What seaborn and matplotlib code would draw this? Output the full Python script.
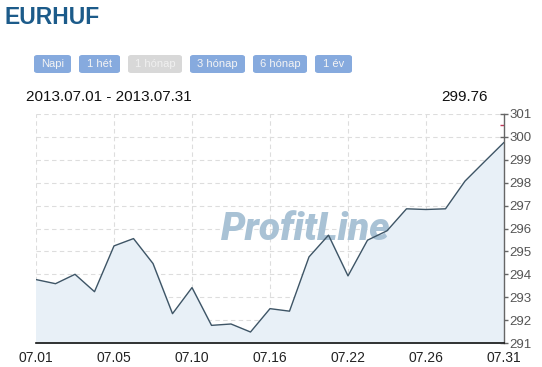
import matplotlib
matplotlib.use("Agg")
import matplotlib.pyplot as plt
from matplotlib.patches import FancyBboxPatch
from matplotlib.ticker import MultipleLocator
import seaborn as sns
import pandas as pd

values = [293.77, 293.59, 294.00, 293.24, 295.24, 295.56, 294.47, 292.28, 293.42,
          291.77, 291.83, 291.48, 292.50, 292.39, 294.76, 295.71, 293.93, 295.49,
          295.90, 296.86, 296.83, 296.86, 298.07, 298.92, 299.76]
tick_pos = [0, 4, 8, 12, 16, 20, 24]
tick_labels = ["07.01", "07.05", "07.10", "07.16", "07.22", "07.26", "07.31"]
buttons = ["Napi", "1 hét", "1 hónap", "3 hónap", "6 hónap", "1 év"]
button_x = [(34, 71), (79, 120), (128, 182), (190, 245), (253, 307), (315, 352)]
active_button = "1 hónap"

df = pd.DataFrame({"idx": range(len(values)), "value": values})

sns.set_style("white")
plt.rcParams["font.family"] = ["Liberation Sans", "DejaVu Sans"]

W, H = 542, 367
fig = plt.figure(figsize=(W / 100, H / 100), dpi=100)

def fx(x):
    return x / W

def fy(y):
    return 1 - y / H

ax = fig.add_axes([fx(36), fy(343), fx(504) - fx(36), fy(114) - fy(343)])

ax.fill_between(df["idx"], df["value"], 291, color="#e8f0f7", zorder=1)
sns.lineplot(data=df, x="idx", y="value", ax=ax, color="#3e5566", linewidth=1.0, zorder=3)

ax.set_xlim(0, 24)
ax.set_ylim(291, 301)
ax.set_xticks(tick_pos)
ax.set_xticklabels(tick_labels)
ax.yaxis.set_major_locator(MultipleLocator(1))
ax.yaxis.set_minor_locator(MultipleLocator(0.5))
ax.yaxis.tick_right()
ax.set_xlabel("")
ax.set_ylabel("")

ax.grid(True, which="major", linestyle=(0, (4, 3)), color="#dddddd", linewidth=0.8, zorder=0)
ax.set_axisbelow(True)

for s in ["top", "left"]:
    ax.spines[s].set_visible(False)
ax.spines["right"].set_color("#666666")
ax.spines["right"].set_linewidth(1.0)
ax.spines["bottom"].set_color("#111111")
ax.spines["bottom"].set_linewidth(1.2)

ax.tick_params(axis="x", direction="out", length=4, width=1, color="#111111",
               labelsize=10, labelcolor="#222222", pad=2)
ax.tick_params(axis="y", which="major", direction="inout", length=6, width=1, color="#666666",
               labelsize=9.5, labelcolor="#555555", pad=1, right=True, left=False)
ax.tick_params(axis="y", which="minor", direction="in", length=3, width=1, color="#c0395a",
               right=True, left=False)

# watermark
ax.text(0.577, 0.495, "ProfitLine", transform=ax.transAxes, fontsize=28,
        family=["Roboto", "Liberation Sans"], fontweight="black", fontstyle="italic",
        color="#a9c2d5", ha="center", va="center", zorder=2)

# title
fig.text(fx(5), fy(18), "EURHUF", fontsize=16.5, fontweight="bold", color="#1c5b8a",
         ha="left", va="center")

# buttons
for label, (x0, x1) in zip(buttons, button_x):
    active = label == active_button
    col = "#d8d8d8" if active else "#86aade"
    box = FancyBboxPatch((fx(x0), fy(73)), fx(x1) - fx(x0), fy(55) - fy(73),
                         boxstyle="round,pad=0,rounding_size=0.006",
                         transform=fig.transFigure, facecolor=col, edgecolor="none")
    fig.patches.append(box)
    fig.text(fx((x0 + x1) / 2), fy(64), label, fontsize=8,
             color="#f4f4f4" if not active else "#f0f0f0", ha="center", va="center")

fig.text(fx(26), fy(97), "2013.07.01 - 2013.07.31", fontsize=11, color="#111111",
         ha="left", va="center")
fig.text(fx(488), fy(97), f"{values[-1]:.2f}", fontsize=11, color="#111111",
         ha="right", va="center")

fig.savefig("out.png", dpi=100)
